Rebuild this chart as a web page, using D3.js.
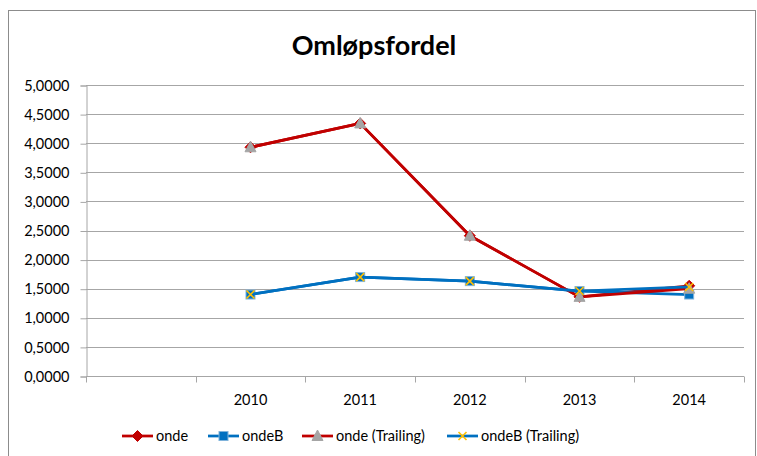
<!DOCTYPE html>
<html>
<head>
<meta charset="utf-8">
<script src="https://cdn.jsdelivr.net/npm/d3@7"></script>
<style>
  body{ margin:0; background:#fff; }
  svg{ display:block; font-family: Lato, "Open Sans", "Liberation Sans", sans-serif; }
</style>
</head>
<body>
<svg id="chart" width="757" height="456"></svg>
<script>
const categories = ['', '2010', '2011', '2012', '2013', '2014']
const yTicks = [0, 0.5, 1, 1.5, 2, 2.5, 3, 3.5, 4, 4.5, 5]

const onde          = [null, 3.93, 4.34, 2.41, 1.36, 1.55]
const ondeB         = [null, 1.40, 1.70, 1.63, 1.46, 1.40]
const ondeTrailing  = [null, 3.93, 4.34, 2.41, 1.36, 1.50]
const ondeBTrailing = [null, 1.40, 1.70, 1.63, 1.46, 1.53]

const series = [
  { name:'onde', values:onde, color:'#C00000', marker:'diamond' },
  { name:'ondeB', values:ondeB, color:'#0070C0', marker:'square' },
  { name:'onde (Trailing)', values:ondeTrailing, color:'#C00000', marker:'triangle' },
  { name:'ondeB (Trailing)', values:ondeBTrailing, color:'#0070C0', marker:'cross' }
]

const svg = d3.select('#chart')
const W = 757, H = 456
const plot = { left:86, right:744, top:85, bottom:376 }

// chart frame
svg.append('rect').attr('x', 8.5).attr('y', 10.5).attr('width', W - 10).attr('height', H)
  .attr('fill', '#fff').attr('stroke', '#8c8c8c').attr('stroke-width', 1)

svg.append('text').attr('x', 374).attr('y', 55).attr('text-anchor', 'middle')
  .attr('font-size', 27).attr('font-weight', 700).attr('fill', '#000')
  .text('Omløpsfordel')

const x = d3.scaleBand().domain(d3.range(categories.length)).range([plot.left, plot.right]).padding(0)
const y = d3.scaleLinear().domain([0, 5]).range([plot.bottom, plot.top])
const fmt = v => d3.format('.4f')(v).replace('.', ',')

// gridlines
svg.append('g').selectAll('line').data(yTicks.filter(t => t > 0)).join('line')
  .attr('x1', plot.left).attr('x2', plot.right)
  .attr('y1', d => Math.round(y(d)) + 0.5).attr('y2', d => Math.round(y(d)) + 0.5)
  .attr('stroke', '#a6a6a6').attr('stroke-width', 1)

// y axis
const yAxis = svg.append('g').attr('transform', `translate(${plot.left + 0.5},0.5)`)
  .call(d3.axisLeft(y).tickValues(yTicks).tickFormat(fmt).tickSize(6).tickPadding(11))
yAxis.select('.domain').attr('stroke', '#a6a6a6')
yAxis.selectAll('.tick line').attr('stroke', '#a6a6a6')
yAxis.selectAll('.tick text').attr('font-size', 14.5).attr('fill', '#000')
  .attr('font-family', 'Lato, "Open Sans", sans-serif')

// x axis
const xAxisG = svg.append('g').attr('transform', `translate(0,${plot.bottom + 0.5})`)
xAxisG.append('line').attr('x1', plot.left).attr('x2', plot.right).attr('stroke', '#a6a6a6')
const bounds = d3.range(categories.length + 1).map(i => i < categories.length ? x(i) : plot.right)
xAxisG.selectAll('line.tk').data(bounds).join('line').attr('class', 'tk')
  .attr('x1', d => Math.round(d) + 0.5).attr('x2', d => Math.round(d) + 0.5)
  .attr('y1', 0).attr('y2', 6).attr('stroke', '#a6a6a6')
xAxisG.selectAll('text').data(categories).join('text')
  .attr('x', (d, i) => x(i) + x.bandwidth() / 2).attr('y', 28)
  .attr('text-anchor', 'middle').attr('font-size', 14.5).attr('fill', '#000')
  .text(d => d)

function drawMarker(g, type, color){
  if(type === 'diamond'){
    g.append('path').attr('d', 'M0,-5.5L5.5,0L0,5.5L-5.5,0Z').attr('fill', color).attr('stroke', color)
  } else if(type === 'square'){
    g.append('rect').attr('x', -4.5).attr('y', -4.5).attr('width', 9).attr('height', 9)
      .attr('fill', color).attr('stroke', '#7fb3db').attr('stroke-width', 1)
  } else if(type === 'triangle'){
    g.append('path').attr('d', 'M0,-6L5.5,4.5L-5.5,4.5Z').attr('fill', '#a5a5a5').attr('stroke', '#a5a5a5')
  } else if(type === 'cross'){
    g.append('path').attr('d', 'M-4,-4L4,4M-4,4L4,-4').attr('stroke', '#FFC000').attr('stroke-width', 1.6).attr('fill', 'none')
  }
}

const line = d3.line().defined(d => d != null).x((d, i) => x(i) + x.bandwidth() / 2).y(d => y(d))

series.forEach(s => {
  const g = svg.append('g')
  g.append('path').datum(s.values).attr('d', line)
    .attr('fill', 'none').attr('stroke', s.color).attr('stroke-width', 2.75).attr('stroke-linejoin', 'round')
  s.values.forEach((v, i) => {
    if(v == null) return
    const m = g.append('g').attr('transform', `translate(${x(i) + x.bandwidth() / 2},${y(v)})`)
    drawMarker(m, s.marker, s.color)
  })
})

// legend
const legendX = [122, 208, 302, 447]
const legend = svg.append('g').attr('transform', 'translate(0,436)')
series.forEach((s, i) => {
  const g = legend.append('g').attr('transform', `translate(${legendX[i]},0)`)
  g.append('line').attr('x1', 0).attr('x2', 31).attr('stroke', s.color).attr('stroke-width', 2.75)
  const m = g.append('g').attr('transform', 'translate(15.5,0)')
  drawMarker(m, s.marker, s.color)
  g.append('text').attr('x', 34).attr('y', 5).attr('font-size', 14.5).attr('fill', '#000').text(s.name)
})
</script>
</body>
</html>
